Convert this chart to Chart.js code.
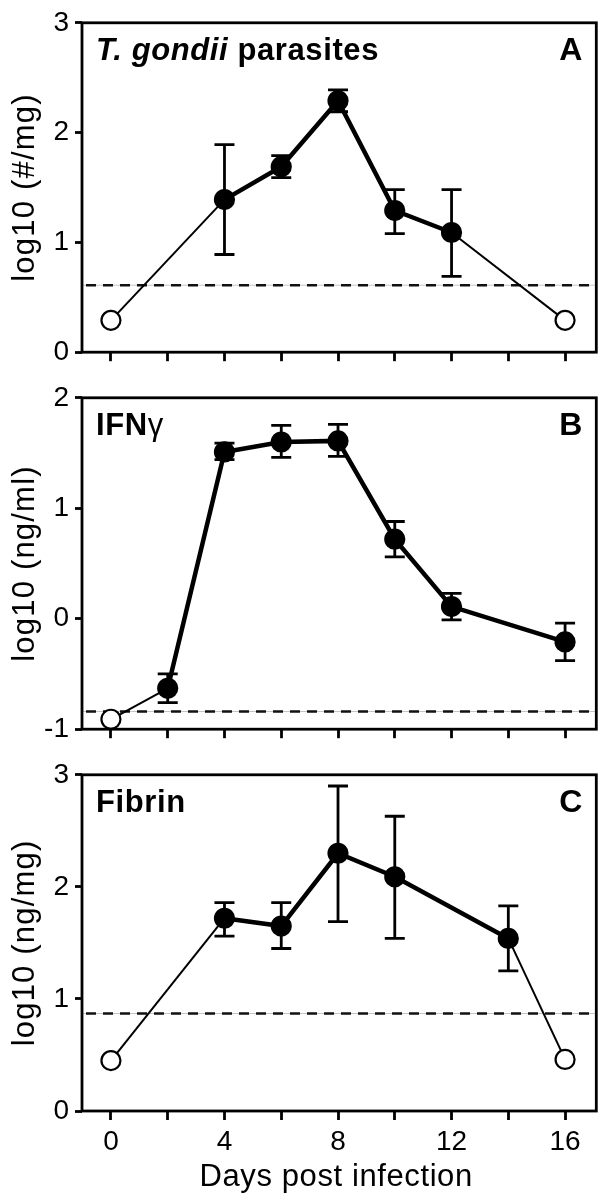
<!DOCTYPE html>
<html>
<head>
<meta charset="utf-8">
<script src="https://cdn.jsdelivr.net/npm/chart.js@4"></script>
<style>
  body { margin: 0; background: #fff; }
  #wrap { position: relative; width: 608px; height: 1200px; background: #fff; }
  canvas { position: absolute; left: 0; }
</style>
</head>
<body>
<div id="wrap">
  <canvas id="panelA" width="608" height="375" style="top:0px"></canvas>
  <canvas id="panelB" width="608" height="377" style="top:375px"></canvas>
  <canvas id="panelC" width="608" height="448" style="top:752px"></canvas>
</div>
<script>
// x axis (days post infection)
const dayTicks = [0, 2, 4, 6, 8, 10, 12, 14, 16];
const dayLabels = [0, 4, 8, 12, 16];

// A: T. gondii parasites, log10 (#/mg)
const parasiteDays = [0, 4, 6, 8, 10, 12, 16];
const parasiteLog = [0.29, 1.39, 1.69, 2.29, 1.29, 1.09, 0.29];
const parasiteLow = [null, 0.89, 1.59, 2.19, 1.08, 0.69, null];
const parasiteHigh = [null, 1.89, 1.79, 2.39, 1.48, 1.48, null];
const parasiteLimit = 0.61;
const parasiteTicks = [0, 1, 2, 3];

// B: IFN-gamma, log10 (ng/ml)
const ifnDays = [0, 2, 4, 6, 8, 10, 12, 16];
const ifnLog = [-0.91, -0.63, 1.51, 1.60, 1.61, 0.72, 0.11, -0.21];
const ifnLow = [null, -0.76, 1.44, 1.46, 1.47, 0.56, -0.01, -0.38];
const ifnHigh = [null, -0.50, 1.59, 1.75, 1.76, 0.88, 0.23, -0.04];
const ifnLimit = -0.84;
const ifnTicks = [-1, 0, 1, 2];

// C: Fibrin, log10 (ng/mg)
const fibrinDays = [0, 4, 6, 8, 10, 14, 16];
const fibrinLog = [0.45, 1.72, 1.65, 2.30, 2.09, 1.54, 0.46];
const fibrinLow = [null, 1.56, 1.45, 1.69, 1.54, 1.25, null];
const fibrinHigh = [null, 1.86, 1.86, 2.90, 2.63, 1.83, null];
const fibrinLimit = 0.87;
const fibrinTicks = [0, 1, 2, 3];

const FONT = "'Liberation Sans', Arial, Helvetica, sans-serif";

function spacedText(ctx, text, x, y, spacing) {
  ctx.letterSpacing = spacing + 'px';
  ctx.fillText(text, x, y);
  ctx.letterSpacing = '0px';
}

const panelDecor = {
  id: 'panelDecor',
  beforeDatasetsDraw(chart, args, o) {
    const { ctx, chartArea: a, scales: { x, y } } = chart;
    const yl = y.getPixelForValue(o.limit);
    ctx.save();
    // detection limit
    ctx.strokeStyle = '#c4c4c4';
    ctx.lineWidth = 1;
    ctx.beginPath(); ctx.moveTo(a.left, yl); ctx.lineTo(a.right, yl); ctx.stroke();
    ctx.strokeStyle = '#111';
    ctx.lineWidth = 2.5;
    ctx.setLineDash([10, 7]);
    ctx.beginPath(); ctx.moveTo(a.left + 4, yl); ctx.lineTo(a.right, yl); ctx.stroke();
    ctx.setLineDash([]);
    // error bars
    ctx.strokeStyle = '#000';
    ctx.lineWidth = 2.8;
    o.days.forEach((d, i) => {
      if (o.low[i] == null) return;
      const px = x.getPixelForValue(d);
      const lo = y.getPixelForValue(o.low[i]);
      const hi = y.getPixelForValue(o.high[i]);
      ctx.beginPath();
      ctx.moveTo(px, lo); ctx.lineTo(px, hi);
      ctx.moveTo(px - 10, lo); ctx.lineTo(px + 10, lo);
      ctx.moveTo(px - 10, hi); ctx.lineTo(px + 10, hi);
      ctx.stroke();
    });
    ctx.restore();
  },
  afterDraw(chart, args, o) {
    const { ctx, chartArea: a } = chart;
    ctx.save();
    ctx.strokeStyle = '#000';
    ctx.lineWidth = 2.8;
    ctx.strokeRect(a.left, a.top, a.right - a.left, a.bottom - a.top);
    ctx.fillStyle = '#000';
    ctx.textBaseline = 'alphabetic';
    // panel title
    let tx = a.left + 14;
    const ty = a.top + 37;
    ctx.textAlign = 'left';
    o.title.forEach(([text, style]) => {
      ctx.font = style + ' 31px ' + FONT;
      ctx.letterSpacing = '0.6px';
      ctx.fillText(text, tx, ty);
      tx += ctx.measureText(text).width;
    });
    ctx.letterSpacing = '0px';
    // panel letter
    ctx.font = 'bold 32px ' + FONT;
    ctx.textAlign = 'right';
    ctx.fillText(o.letter, a.right - 14, ty);
    // y title
    ctx.font = '31px ' + FONT;
    ctx.textAlign = 'center';
    ctx.translate(34, (a.top + a.bottom) / 2);
    ctx.rotate(-Math.PI / 2);
    spacedText(ctx, o.yTitle, 0, 0, 1.2);
    ctx.restore();
    if (o.xTitle) {
      ctx.save();
      ctx.fillStyle = '#000';
      ctx.font = '31px ' + FONT;
      ctx.textAlign = 'center';
      spacedText(ctx, o.xTitle, (a.left + a.right) / 2 - 3, a.bottom + 75, 0.6);
      ctx.restore();
    }
  }
};

function makePanel(id, p) {
  const isOpen = v => v < p.limit;
  return new Chart(document.getElementById(id), {
    type: 'line',
    data: {
      datasets: [{
        data: p.days.map((d, i) => ({ x: d, y: p.values[i] })),
        borderColor: '#000',
        borderWidth: 4.5,
        tension: 0,
        clip: false,
        pointRadius: 9.5,
        pointBorderWidth: 2.2,
        pointBorderColor: '#000',
        pointBackgroundColor: p.values.map(v => isOpen(v) ? '#fff' : '#000'),
        segment: {
          borderWidth: c => (isOpen(p.values[c.p0DataIndex]) || isOpen(p.values[c.p1DataIndex])) ? 2 : 4.5
        }
      }]
    },
    options: {
      responsive: false,
      devicePixelRatio: 1,
      animation: false,
      layout: { padding: { top: p.top, right: 11, left: 0, bottom: 0 } },
      plugins: {
        legend: { display: false },
        tooltip: { enabled: false },
        panelDecor: {
          limit: p.limit, days: p.days, low: p.low, high: p.high,
          title: p.title, letter: p.letter, yTitle: p.yTitle, xTitle: p.xTitle
        }
      },
      scales: {
        x: {
          type: 'linear',
          min: -1.02,
          max: 17.1,
          afterBuildTicks: s => { s.ticks = dayTicks.map(v => ({ value: v })); },
          afterFit: s => { s.height = p.xHeight; },
          grid: { drawOnChartArea: false, drawTicks: true, tickLength: 9, tickWidth: 2.8, tickColor: '#000' },
          border: { display: false },
          ticks: {
            display: p.showX,
            padding: 5,
            color: '#000',
            font: { family: FONT, size: 28 },
            maxRotation: 0,
            autoSkip: false,
            callback: v => dayLabels.includes(v) ? String(v) : ''
          }
        },
        y: {
          min: p.yTicks[0],
          max: p.yTicks[p.yTicks.length - 1],
          afterBuildTicks: s => { s.ticks = p.yTicks.map(v => ({ value: v })); },
          afterFit: s => { s.width = 82; },
          grid: { drawOnChartArea: false, drawTicks: true, tickLength: 7, tickWidth: 2.8, tickColor: '#000' },
          border: { display: false },
          ticks: {
            padding: 6,
            color: '#000',
            font: { family: FONT, size: 28 }
          }
        }
      }
    },
    plugins: [panelDecor]
  });
}

makePanel('panelA', {
  days: parasiteDays, values: parasiteLog, low: parasiteLow, high: parasiteHigh,
  limit: parasiteLimit, yTicks: parasiteTicks, top: 17, xHeight: 17, showX: false,
  title: [['T. gondii', 'italic bold'], [' parasites', 'bold']], letter: 'A',
  yTitle: 'log10 (#/mg)'
});
makePanel('panelB', {
  days: ifnDays, values: ifnLog, low: ifnLow, high: ifnHigh,
  limit: ifnLimit, yTicks: ifnTicks, top: 18, xHeight: 19, showX: false,
  title: [['IFN', 'bold'], ['γ', 'normal']], letter: 'B',
  yTitle: 'log10 (ng/ml)'
});
makePanel('panelC', {
  days: fibrinDays, values: fibrinLog, low: fibrinLow, high: fibrinHigh,
  limit: fibrinLimit, yTicks: fibrinTicks, top: 18, xHeight: 89, showX: true,
  title: [['Fibrin', 'bold']], letter: 'C',
  yTitle: 'log10 (ng/mg)', xTitle: 'Days post infection'
});
</script>
</body>
</html>
